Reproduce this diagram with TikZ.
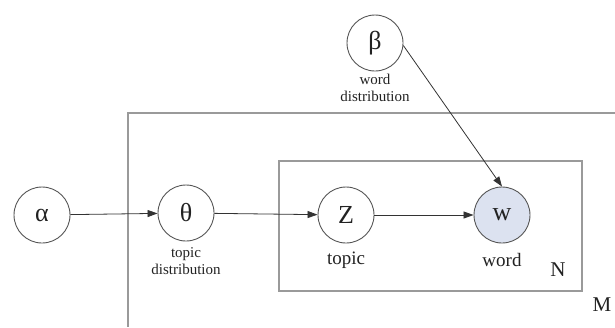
\documentclass[tikz,border=0pt]{standalone}
\usepackage{fontspec}
\setmainfont{Liberation Serif}
\usetikzlibrary{arrows.meta}
\definecolor{circline}{HTML}{555555}
\definecolor{plateline}{HTML}{9A9A9A}
\definecolor{wfill}{HTML}{DCE2F0}
\definecolor{txt}{HTML}{222222}
\tikzset{
  var/.style={circle, draw=circline, line width=0.9pt, minimum size=56pt, inner sep=0pt,
    font=\fontsize{26}{28}\selectfont, text=txt},
  obs/.style={var, fill=wfill},
  edge/.style={draw=black!80, line width=0.8pt, -{Triangle[length=10pt,width=7pt]}},
  plate/.style={draw=plateline, line width=1.3pt},
  smalllab/.style={font=\fontsize{15}{17}\selectfont, align=center, text=txt, inner sep=0pt},
  biglab/.style={font=\fontsize{19}{21}\selectfont, text=txt, inner sep=0pt},
  platelab/.style={font=\fontsize{21}{23}\selectfont, text=txt, inner sep=0pt}
}
\begin{document}
\begin{tikzpicture}[x=1pt,y=-1pt]
\useasboundingbox (0,0) rectangle (615,327);
% plates
\draw[plate] (615,113) -- (128,113) -- (128,327);
\draw[plate] (279,161) rectangle (582,291);
% nodes
\node[var] (alpha) at (42,215) {α};
\node[var] (theta) at (186,213) {θ};
\node[var] (z) at (346,215) {Z};
\node[obs] (w) at (502,215) {w};
\node[var] (beta) at (375,43) {β};
% labels
\node[smalllab] (lbeta) at (375,88) {word\\distribution};
\node[smalllab] (ltheta) at (186,261) {topic\\distribution};
\node[biglab] (lz) at (346,260) {topic};
\node[biglab] (lw) at (502,260) {word};
\node[platelab] (ln) at (558,270) {N};
\node[platelab] (lm) at (602,305) {M};
% edges
\draw[edge] (alpha) -- (theta);
\draw[edge] (theta) -- (z);
\draw[edge] (z) -- (w);
\draw[edge] (beta.-5) -- (w.north);
\end{tikzpicture}
\end{document}
